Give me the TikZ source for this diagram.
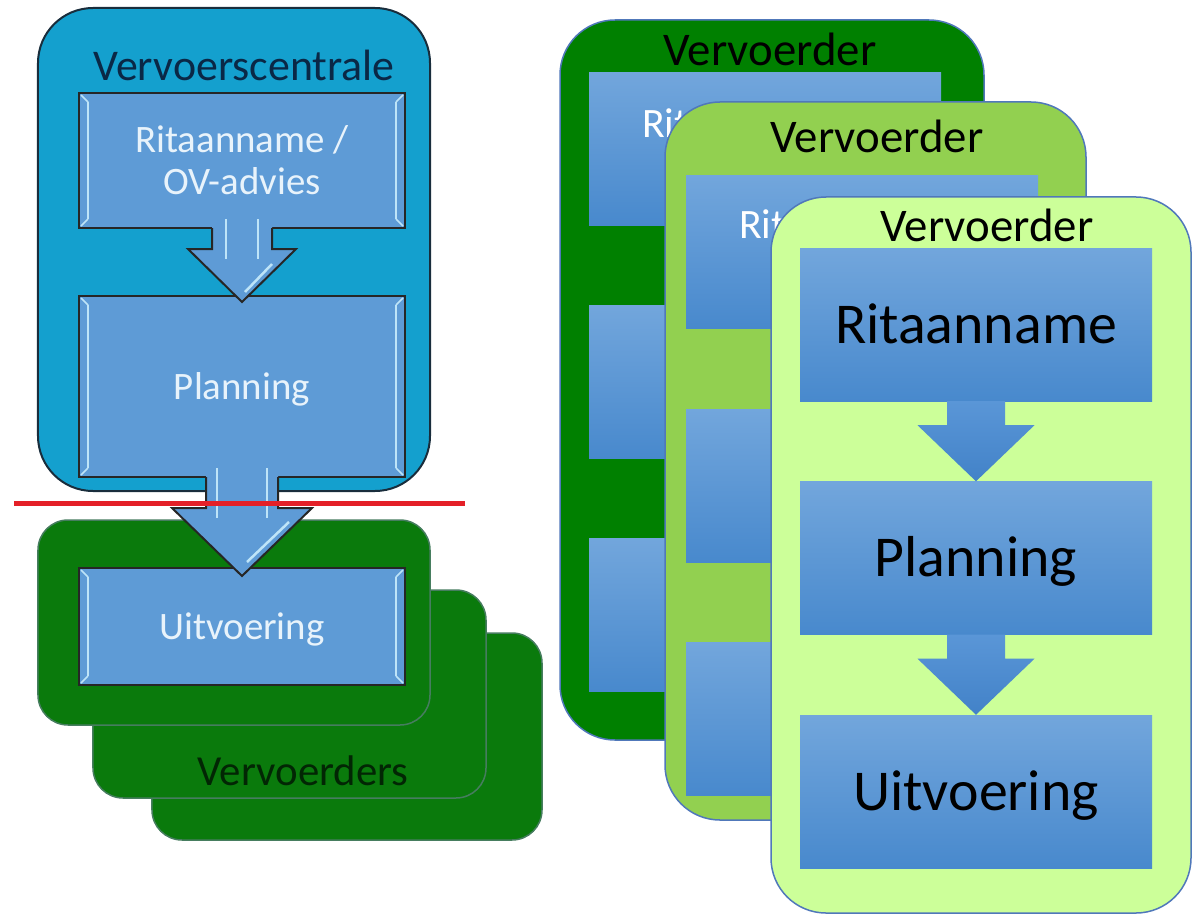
\documentclass[tikz,border=0pt]{standalone}
\usepackage{fontspec}
\setmainfont{Carlito}
\usetikzlibrary{calc}
\definecolor{vcblue}{RGB}{20,160,206}
\definecolor{vcedge}{RGB}{25,45,60}
\definecolor{lbox}{RGB}{94,155,214}
\definecolor{ltext}{RGB}{232,243,251}
\definecolor{bevelc}{RGB}{190,228,248}
\definecolor{lgreen}{RGB}{10,122,12}
\definecolor{lgedge}{RGB}{70,125,95}
\definecolor{vctitlec}{RGB}{10,40,70}
\definecolor{vdtext}{RGB}{2,38,4}
\definecolor{redline}{RGB}{228,32,40}
\definecolor{rgdark}{RGB}{0,128,0}
\definecolor{rgmid}{RGB}{146,208,80}
\definecolor{rglight}{RGB}{204,255,153}
\definecolor{routline}{RGB}{80,120,186}
\definecolor{rtop}{RGB}{114,166,220}
\definecolor{rbot}{RGB}{72,137,205}
\definecolor{atop}{RGB}{90,150,215}
\definecolor{abot}{RGB}{66,130,200}
\begin{document}
\begin{tikzpicture}[x=1bp,y=-1bp,
  vcbox/.style={rectangle,rounded corners=55bp,fill=vcblue,draw=vcedge,line width=2bp,inner sep=0pt},
  grbox/.style={rectangle,rounded corners=30bp,fill=lgreen,draw=lgedge,line width=1.5bp,inner sep=0pt},
  lstep/.style={rectangle,fill=lbox,draw=black!85,line width=2bp,inner sep=0pt,text=ltext,font=\fontsize{39}{42}\selectfont,minimum width=326bp},
  bevel/.style={draw=bevelc,line width=2.5bp},
  larrowfill/.style={fill=lbox},
  larrowline/.style={draw=black!85,line width=2bp,line join=miter},
  redbar/.style={draw=redline,line width=5bp},
  rout/.style={rectangle,rounded corners=55bp,draw=routline,line width=1.5bp,inner sep=0pt},
  rin/.style={rectangle,top color=rtop,bottom color=rbot,draw=none,inner sep=0pt,minimum width=352bp,minimum height=153bp,font=\fontsize{58}{60}\selectfont,text height=37bp,text depth=0bp},
  rarrow/.style={top color=atop,bottom color=abot,draw=none},
  rtitle/.style={anchor=base,font=\fontsize{47}{50}\selectfont,inner sep=0pt},
  ghost/.style={anchor=base west,inner sep=0pt,text=white,font=\fontsize{42}{46}\selectfont},
]
\useasboundingbox (0,0) rectangle (1193,916);

% ---------------- left part ----------------
\node[grbox,minimum width=390bp,minimum height=207bp] (gb3) at (347,736.5) {};
\node[grbox,minimum width=393bp,minimum height=208bp] (gb2) at (289.5,694) {};
\node[anchor=base,text=vdtext,font=\fontsize{43}{46}\selectfont,inner sep=0pt] (vdlabel) at (303,785) {Vervoerders};
\node[grbox,minimum width=392bp,minimum height=205bp] (gb1) at (234,622.5) {};
\node[vcbox,minimum width=392bp,minimum height=483bp] (vc) at (234,249.5) {};
\node[anchor=base,text=vctitlec,font=\fontsize{44}{46}\selectfont,inner sep=0pt] (vclabel) at (244,80) {Vervoerscentrale};

\node[lstep,minimum height=135bp,align=center] (l1) at (242,160.5) {Ritaanname /\\OV-advies};
\node[lstep,minimum height=181bp,text height=25bp,text depth=0bp] (l2) at (242,386.5) {Planning};
\node[lstep,minimum height=117bp,text height=25bp,text depth=0bp] (l3) at (242,626.5) {Uitvoering};

\foreach \b in {l1,l2,l3}{
  \draw[bevel] ($(\b.north west)+(10,10)$) -- ($(\b.south west)+(10,-10)$);
  \draw[bevel] ($(\b.north east)+(-10,10)$) -- ($(\b.south east)+(-10,-10)$);
  \draw[bevel,line width=1.5bp] ($(\b.north west)+(3,3)$) -- ($(\b.north west)+(10,10)$);
  \draw[bevel,line width=1.5bp] ($(\b.north east)+(-3,3)$) -- ($(\b.north east)+(-10,10)$);
  \draw[bevel,line width=1.5bp] ($(\b.south west)+(3,-3)$) -- ($(\b.south west)+(10,-10)$);
  \draw[bevel,line width=1.5bp] ($(\b.south east)+(-3,-3)$) -- ($(\b.south east)+(-10,-10)$);
}

% arrow l1 -> l2
\fill[larrowfill] ($(l1.south)+(-30,-12)$) -- ($(l1.south)+(-30,20)$) -- ($(l1.south)+(-54,20)$) -- ($(l2.north)+(0,7)$) -- ($(l1.south)+(54,20)$) -- ($(l1.south)+(30,20)$) -- ($(l1.south)+(30,-12)$) -- cycle;
\draw[larrowline] ($(l1.south)+(-30,-1)$) -- ($(l1.south)+(-30,20)$) -- ($(l1.south)+(-54,20)$) -- ($(l2.north)+(0,7)$) -- ($(l1.south)+(54,20)$) -- ($(l1.south)+(30,20)$) -- ($(l1.south)+(30,-1)$);
\draw[bevel] ($(l1.south)+(-16,-10)$) -- ($(l1.south)+(-16,30)$);
\draw[bevel] ($(l1.south)+(16,-10)$) -- ($(l1.south)+(16,30)$);
\draw[bevel] ($(l1.south)+(30,35)$) -- ($(l1.south)+(3,63)$);

% arrow l2 -> l3
\fill[larrowfill] ($(l2.south)+(-36,-12)$) -- ($(l2.south)+(-36,30)$) -- ($(l2.south)+(-70,30)$) -- ($(l3.north)+(0,9)$) -- ($(l2.south)+(70,30)$) -- ($(l2.south)+(36,30)$) -- ($(l2.south)+(36,-12)$) -- cycle;
\draw[larrowline] ($(l2.south)+(-36,-1)$) -- ($(l2.south)+(-36,30)$) -- ($(l2.south)+(-70,30)$) -- ($(l3.north)+(0,9)$) -- ($(l2.south)+(70,30)$) -- ($(l2.south)+(36,30)$) -- ($(l2.south)+(36,-1)$);
\draw[bevel] ($(l2.south)+(-25,-10)$) -- ($(l2.south)+(-25,40)$);
\draw[bevel] ($(l2.south)+(25,-10)$) -- ($(l2.south)+(25,40)$);
\draw[bevel] ($(l2.south)+(47,44)$) -- ($(l2.south)+(5,84)$);

% red divider
\coordinate (rl1) at (14,503);
\coordinate (rl2) at (465,503);
\draw[redbar] (rl1) -- (rl2);

% ---------------- right part ----------------
\node[rout,fill=rgdark,minimum width=424bp,minimum height=720bp] (ro1) at (772,380) {};
\node[rin] (ri1a) at (765,148.5) {};
\node[rin] (ri1b) at (765,381.5) {};
\node[rin] (ri1c) at (765,614.5) {};
\node[ghost] (rt1) at (642,137) {Rit};
\node[rtitle] (tt1) at (770,65) {Vervoerder};

\node[rout,fill=rgmid,minimum width=421bp,minimum height=718bp] (ro2) at (875.5,461) {};
\node[rin] (ri2a) at (862,251.5) {};
\node[rin] (ri2b) at (862,485.5) {};
\node[rin] (ri2c) at (862,719) {};
\node[ghost] (rt2) at (739,238) {Rit};
\node[rtitle] (tt2) at (877,152) {Vervoerder};

\node[rout,fill=rglight,minimum width=420bp,minimum height=716bp] (ro3) at (981,555) {};
\node[rin] (ri3a) at (976,324.5) {Ritaanname};
\node[rin] (ri3b) at (976,558) {Planning};
\node[rin] (ri3c) at (976,791.5) {Uitvoering};
\node[rtitle] (tt3) at (987,241) {Vervoerder};

\path[rarrow] ($(ri3a.south)+(-29,0)$) -- ($(ri3a.south)+(-29,24)$) -- ($(ri3a.south)+(-58.5,24)$) -- (ri3b.north) -- ($(ri3a.south)+(58.5,24)$) -- ($(ri3a.south)+(29,24)$) -- ($(ri3a.south)+(29,0)$) -- cycle;
\path[rarrow] ($(ri3b.south)+(-29,0)$) -- ($(ri3b.south)+(-29,24)$) -- ($(ri3b.south)+(-58.5,24)$) -- (ri3c.north) -- ($(ri3b.south)+(58.5,24)$) -- ($(ri3b.south)+(29,24)$) -- ($(ri3b.south)+(29,0)$) -- cycle;
\end{tikzpicture}
\end{document}
